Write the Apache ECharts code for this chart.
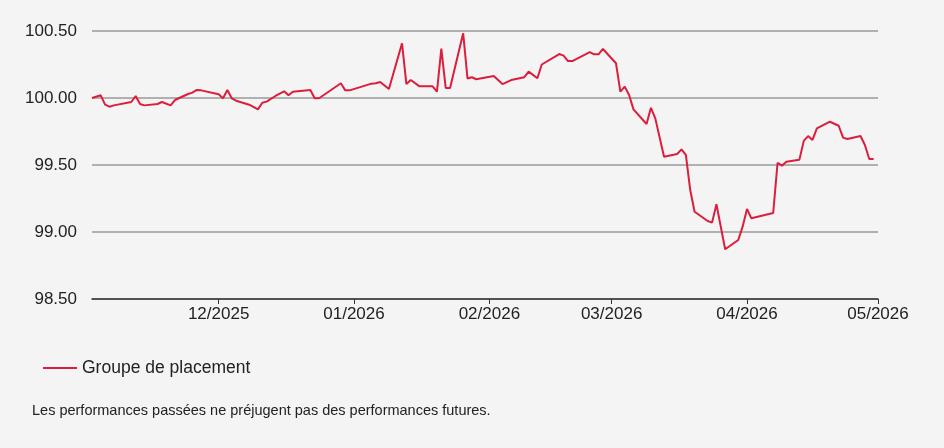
<!DOCTYPE html>
<html>
<head>
<meta charset="utf-8">
<script src="https://cdn.jsdelivr.net/npm/echarts@6/dist/echarts.min.js"></script>
<style>
  html, body { margin: 0; padding: 0; background: #f4f4f4; }
  #chart { width: 944px; height: 448px; }
</style>
</head>
<body>
<div id="chart"></div>
<script>
// dates (business days) and values
const dates = [
  "2025-11-02", "2025-11-04", "2025-11-05", "2025-11-06", "2025-11-07",
  "2025-11-11", "2025-11-12", "2025-11-13", "2025-11-14", "2025-11-17",
  "2025-11-18", "2025-11-20", "2025-11-21", "2025-11-24", "2025-11-25",
  "2025-11-26", "2025-11-27", "2025-12-01", "2025-12-02", "2025-12-03",
  "2025-12-04", "2025-12-05", "2025-12-08", "2025-12-10", "2025-12-11",
  "2025-12-12", "2025-12-14", "2025-12-16", "2025-12-17", "2025-12-18",
  "2025-12-22", "2025-12-23", "2025-12-24", "2025-12-29", "2025-12-30",
  "2025-12-31", "2026-01-05", "2026-01-06", "2026-01-07", "2026-01-09",
  "2026-01-12", "2026-01-13", "2026-01-14", "2026-01-16", "2026-01-19",
  "2026-01-20", "2026-01-21", "2026-01-22", "2026-01-23", "2026-01-26",
  "2026-01-27", "2026-01-28", "2026-01-29", "2026-02-02", "2026-02-04",
  "2026-02-06", "2026-02-09", "2026-02-10", "2026-02-12", "2026-02-13",
  "2026-02-17", "2026-02-18", "2026-02-19", "2026-02-20", "2026-02-24",
  "2026-02-25", "2026-02-26", "2026-02-27", "2026-03-02", "2026-03-03",
  "2026-03-04", "2026-03-05", "2026-03-06", "2026-03-09", "2026-03-10",
  "2026-03-11", "2026-03-13", "2026-03-16", "2026-03-17", "2026-03-18",
  "2026-03-19", "2026-03-20", "2026-03-23", "2026-03-24", "2026-03-25",
  "2026-03-27", "2026-03-30", "2026-03-31", "2026-04-01", "2026-04-02",
  "2026-04-07", "2026-04-08", "2026-04-09", "2026-04-10", "2026-04-13",
  "2026-04-14", "2026-04-15", "2026-04-16", "2026-04-17", "2026-04-20",
  "2026-04-22", "2026-04-23", "2026-04-24", "2026-04-27", "2026-04-28",
  "2026-04-29", "2026-04-30"
];

const values = [
  100.00, 100.02, 99.95, 99.935, 99.945,
  99.97, 100.015, 99.955, 99.945, 99.955,
  99.97, 99.945, 99.985, 100.03, 100.04,
  100.06, 100.057, 100.028, 99.998, 100.06,
  99.998, 99.98, 99.95, 99.915, 99.965,
  99.973, 100.015, 100.05, 100.02, 100.047,
  100.06, 99.998, 99.998, 100.11, 100.057,
  100.057, 100.107, 100.11, 100.12, 100.067,
  100.408, 100.104, 100.134, 100.087, 100.087,
  100.047, 100.368, 100.075, 100.075, 100.483,
  100.145, 100.155, 100.14, 100.164, 100.104,
  100.134, 100.155, 100.197, 100.147, 100.25,
  100.328, 100.316, 100.276, 100.276, 100.343,
  100.326, 100.326, 100.366, 100.259, 100.047,
  100.085, 100.022, 99.915, 99.806, 99.927,
  99.848, 99.562, 99.582, 99.617, 99.575,
  99.313, 99.151, 99.082, 99.07, 99.207,
  98.871, 98.94, 99.04, 99.172, 99.102,
  99.142, 99.517, 99.495, 99.525, 99.54,
  99.68, 99.716, 99.687, 99.774, 99.823,
  99.793, 99.704, 99.694, 99.716, 99.649,
  99.545, 99.545
];

const monthTicks = ["2025-12-01", "2026-01-01", "2026-02-01", "2026-03-01", "2026-04-01", "2026-05-01"];
const axisStart = "2025-11-02";
const axisEnd = "2026-05-01";

const seriesName = "Groupe de placement";
const footnote = "Les performances passées ne préjugent pas des performances futures.";

const toTime = (s) => new Date(s + "T00:00:00Z").getTime();
const tickTimes = monthTicks.map(toTime);

const chart = echarts.init(document.getElementById("chart"));
chart.setOption({
  backgroundColor: "#f4f4f4",
  animation: false,
  textStyle: { fontFamily: "Liberation Sans, Arial, sans-serif" },
  grid: { left: 92, right: 66, top: 31, bottom: 149 },
  legend: {
    left: 38,
    top: 354,
    icon: "rect",
    itemWidth: 34,
    itemHeight: 2,
    itemGap: 10,
    textStyle: { fontSize: 17.5, color: "#222" },
    data: [seriesName],
  },
  title: {
    text: footnote,
    left: 27,
    top: 398,
    textStyle: { fontSize: 14.5, fontWeight: "normal", color: "#222" },
  },
  xAxis: {
    type: "value",
    min: toTime(axisStart),
    max: toTime(axisEnd),
    axisLine: { lineStyle: { color: "#333", width: 1.5 } },
    axisTick: {
      show: true,
      customValues: tickTimes,
      length: 5,
      lineStyle: { color: "#333" },
    },
    axisLabel: {
      customValues: tickTimes,
      fontSize: 17,
      color: "#222",
      margin: 7,
      formatter: (v) => {
        const d = new Date(v);
        return String(d.getUTCMonth() + 1).padStart(2, "0") + "/" + d.getUTCFullYear();
      },
    },
    splitLine: { show: false },
  },
  yAxis: {
    type: "value",
    min: 98.5,
    max: 100.5,
    interval: 0.5,
    axisLine: { show: false },
    axisTick: { show: false },
    axisLabel: {
      fontSize: 17,
      color: "#222",
      margin: 15,
      formatter: (v) => v.toFixed(2),
    },
    splitLine: { lineStyle: { color: "#9a9a9a", width: 1.5 } },
  },
  series: [
    {
      name: seriesName,
      type: "line",
      showSymbol: false,
      symbol: "none",
      color: "#dc1e3c",
      lineStyle: { width: 2 },
      data: dates.map((d, i) => [toTime(d), values[i]]),
    },
  ],
});
</script>
</body>
</html>
